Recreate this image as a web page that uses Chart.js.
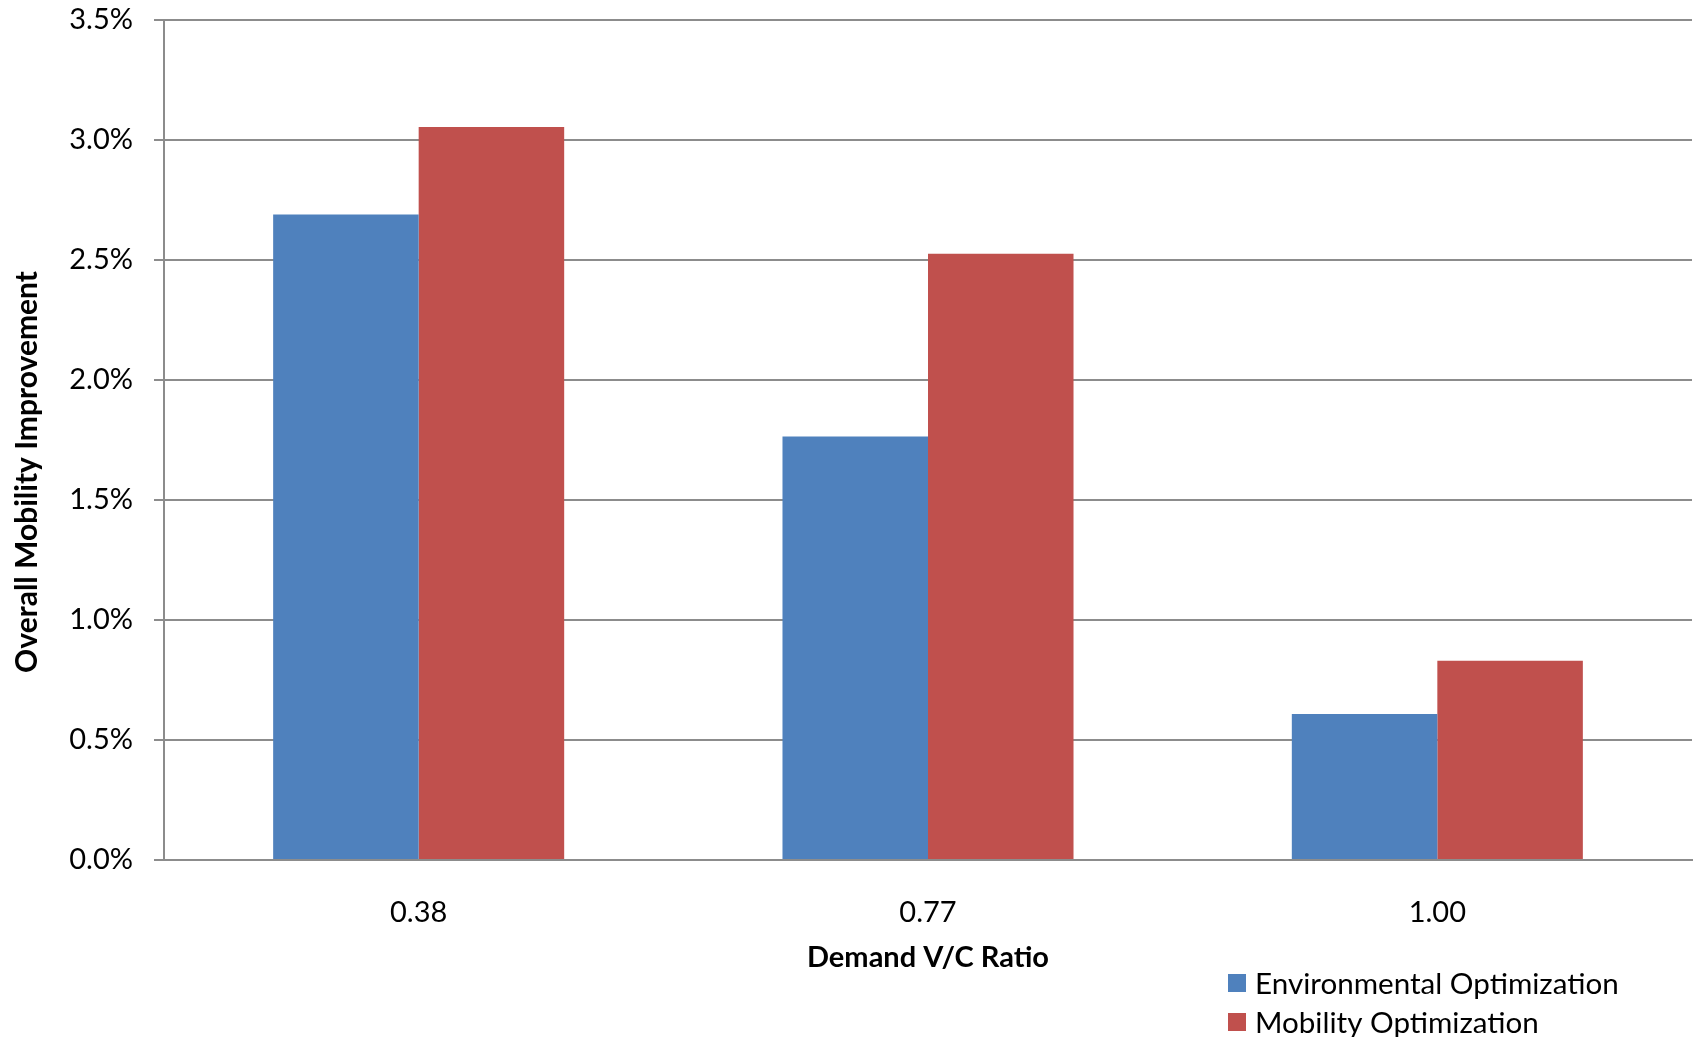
<!DOCTYPE html>
<html>
<head>
<meta charset="utf-8">
<script src="https://cdn.jsdelivr.net/npm/chart.js@4.4.1/dist/chart.umd.min.js"></script>
<style>
  html, body { margin: 0; padding: 0; background: #ffffff; }
  #wrap { width: 1694px; height: 1037px; position: relative; }
</style>
</head>
<body>
<div id="wrap"><canvas id="chart" width="1694" height="1037"></canvas></div>
<script>
// Demand V/C ratio categories
const categories = ['0.38', '0.77', '1.00'];
// Overall mobility improvement, in percent
const environmentalOpt = [2.69, 1.765, 0.608];
const mobilityOpt = [3.054, 2.526, 0.83];
const seriesNames = ['Environmental Optimization', 'Mobility Optimization'];
const seriesColors = ['#4F81BD', '#C0504D'];
const yTickLabels = ['0.0%', '0.5%', '1.0%', '1.5%', '2.0%', '2.5%', '3.0%', '3.5%'];

const FONT = 'Lato, "Open Sans", "DejaVu Sans", sans-serif';
const GRID = '#8c8c8c';

// Rotated y-axis title and the stacked legend at the lower right
const extras = {
  id: 'extras',
  afterDraw(chart) {
    const ctx = chart.ctx;
    ctx.save();
    ctx.fillStyle = '#000';
    ctx.font = 'bold 30px ' + FONT;
    ctx.textAlign = 'center';
    ctx.textBaseline = 'middle';
    ctx.translate(27, 472);
    ctx.rotate(-Math.PI / 2);
    ctx.fillText('Overall Mobility Improvement', 0, 0);
    ctx.restore();

    ctx.save();
    ctx.font = '29.6px ' + FONT;
    ctx.textAlign = 'left';
    ctx.textBaseline = 'middle';
    chart.data.datasets.forEach((ds, i) => {
      const y = 974 + i * 39;
      ctx.fillStyle = ds.backgroundColor;
      ctx.fillRect(1228, y, 18, 18);
      ctx.fillStyle = '#000';
      ctx.fillText(ds.label, 1255, y + 10);
    });
    ctx.restore();
  }
};

new Chart(document.getElementById('chart'), {
  type: 'bar',
  data: {
    labels: categories,
    datasets: [
      { label: seriesNames[0], data: environmentalOpt, backgroundColor: seriesColors[0] },
      { label: seriesNames[1], data: mobilityOpt, backgroundColor: seriesColors[1] }
    ]
  },
  options: {
    responsive: false,
    animation: false,
    events: [],
    layout: { padding: { top: 20, right: 2, left: 0, bottom: 0 } },
    datasets: { bar: { categoryPercentage: 0.5714, barPercentage: 1.0, borderWidth: 0 } },
    plugins: {
      legend: { display: false },
      tooltip: { enabled: false }
    },
    scales: {
      x: {
        grid: { display: false, drawTicks: false },
        border: { display: true, color: GRID, width: 2 },
        ticks: { color: '#000', font: { family: FONT, size: 29 }, padding: 35 },
        title: {
          display: true,
          text: 'Demand V/C Ratio',
          color: '#000',
          font: { family: FONT, size: 29, weight: 'bold' },
          padding: { top: 0, bottom: 62 }
        },
        afterFit(scale) {
          scale.height = 177;
          scale.paddingLeft = 0;
          scale.paddingRight = 0;
        }
      },
      y: {
        min: 0,
        max: 3.5,
        grid: { color: GRID, lineWidth: 2, drawTicks: true, tickLength: 10 },
        border: { display: true, color: GRID, width: 2 },
        ticks: {
          stepSize: 0.5,
          color: '#000',
          font: { family: FONT, size: 29 },
          padding: 21,
          callback: (v, i) => yTickLabels[i]
        },
        afterFit(scale) {
          scale.width = 164;
          scale.paddingTop = 0;
          scale.paddingBottom = 0;
        }
      }
    }
  },
  plugins: [extras]
});
</script>
</body>
</html>
